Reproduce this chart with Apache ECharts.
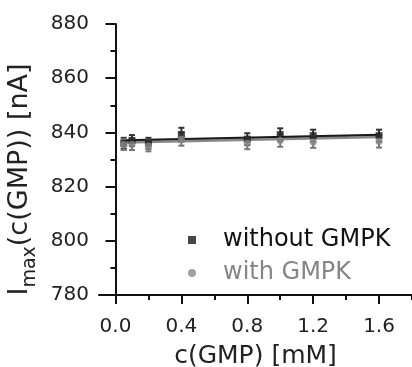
<!DOCTYPE html>
<html>
<head>
<meta charset="utf-8">
<script src="https://cdn.jsdelivr.net/npm/echarts@6/dist/echarts.min.js"></script>
<style>html,body{margin:0;padding:0;background:#fff}#c{width:412px;height:367px}</style>
</head>
<body>
<div id="c"></div>
<script>
// concentrations c(GMP) [mM]
var conc = [0.05, 0.1, 0.2, 0.4, 0.8, 1.0, 1.2, 1.6];
// without GMPK
var withoutVals = [836.0, 837.0, 836.0, 839.2, 837.5, 839.2, 838.8, 838.8];
var withoutErr  = [2.0, 2.0, 2.0, 2.5, 2.2, 2.3, 2.2, 2.2];
// with GMPK
var withVals = [835.5, 835.5, 835.0, 837.5, 836.0, 837.0, 836.5, 836.6];
var withErr  = [2.0, 2.0, 2.0, 2.4, 2.2, 2.3, 2.2, 2.2];
// linear fits (end points)
var fitWithout = [[0.05, 837.0], [1.6, 839.0]];
var fitWith = [[0.05, 836.3], [1.6, 838.3]];
// tick labels
var xTicks = [0.0, 0.4, 0.8, 1.2, 1.6];
var xMinorTicks = [0.2, 0.6, 1.0, 1.4, 1.8];

var BLACK = '#1a1a1a', GRAY = '#888888';
var FONT = 'DejaVu Sans';

function pts(xs, ys, es) {
  return xs.map(function (x, i) { return es ? [x, ys[i], es[i]] : [x, ys[i]]; });
}
function errRender(color) {
  return function (params, api) {
    var x = api.value(0), y = api.value(1), e = api.value(2);
    var top = api.coord([x, y + e]), bot = api.coord([x, y - e]);
    var w = 3;
    var st = { stroke: color, lineWidth: 2 };
    return { type: 'group', children: [
      { type: 'line', shape: { x1: top[0], y1: top[1], x2: bot[0], y2: bot[1] }, style: st },
      { type: 'line', shape: { x1: top[0] - w, y1: top[1], x2: top[0] + w, y2: top[1] }, style: st },
      { type: 'line', shape: { x1: bot[0] - w, y1: bot[1], x2: bot[0] + w, y2: bot[1] }, style: st }
    ]};
  };
}

var chart = echarts.init(document.getElementById('c'));
chart.setOption({
  animation: false,
  backgroundColor: '#fff',
  grid: { left: 99, right: 0, top: 24, bottom: 72, containLabel: false, outerBoundsMode: 'none' },
  legend: {
    orient: 'vertical', left: 183, top: 223,
    itemWidth: 8, itemHeight: 8, itemGap: 9,
    selectedMode: false,
    textStyle: { fontFamily: FONT, fontSize: 24, lineHeight: 24, padding: [0, 0, 0, 22] },
    data: [
      { name: 'without GMPK', icon: 'rect', textStyle: { color: '#111' } },
      { name: 'with GMPK', icon: 'circle', textStyle: { color: '#858585' } }
    ]
  },
  xAxis: [{
    type: 'value', min: -0.1, max: 1.8,
    name: 'c(GMP) [mM]', nameLocation: 'middle', nameGap: 49,
    nameTextStyle: { fontFamily: FONT, fontSize: 25, color: '#222' },
    axisLine: { show: true, onZero: false, lineStyle: { color: '#111', width: 2 } },
    axisTick: { show: true, length: 9, customValues: xTicks, lineStyle: { color: '#111', width: 2 } },
    axisLabel: { customValues: xTicks, margin: 22, fontFamily: FONT, fontSize: 20, color: '#222',
      formatter: function (v) { return v.toFixed(1); } },
    splitLine: { show: false }
  }, {
    type: 'value', min: -0.1, max: 1.8, position: 'bottom',
    axisLine: { show: false },
    axisTick: { show: true, length: 5, customValues: xMinorTicks, lineStyle: { color: '#111', width: 2 } },
    axisLabel: { show: false },
    splitLine: { show: false }
  }],
  yAxis: {
    type: 'value', min: 780, max: 880, interval: 20,
    name: '{a|I}{b|max}{a|(c(GMP)) [nA]}', nameLocation: 'middle', nameGap: 58,
    nameTextStyle: {
      padding: [0, 40, 0, 0],
      rich: {
        a: { fontFamily: FONT, fontSize: 27, color: '#222' },
        b: { fontFamily: FONT, fontSize: 19, color: '#222', verticalAlign: 'bottom', padding: [0, 0, -6, 0] }
      }
    },
    axisLine: { show: true, lineStyle: { color: '#111', width: 2 } },
    axisTick: { show: true, length: 10, lineStyle: { color: '#111', width: 2 } },
    minorTick: { show: true, splitNumber: 2, length: 5, lineStyle: { color: '#111', width: 2 } },
    axisLabel: { margin: 10, fontFamily: FONT, fontSize: 20, color: '#222' },
    splitLine: { show: false }
  },
  series: [
    { name: 'fit without', type: 'line', data: fitWithout, symbol: 'none', lineStyle: { color: BLACK, width: 2.5 }, z: 3 },
    { name: 'fit with', type: 'line', data: fitWith, symbol: 'none', lineStyle: { color: GRAY, width: 2.5 }, z: 4 },
    { name: 'err without', type: 'custom', data: pts(conc, withoutVals, withoutErr), renderItem: errRender('#333'), z: 5 },
    { name: 'err with', type: 'custom', data: pts(conc, withVals, withErr), renderItem: errRender('#777'), z: 5 },
    { name: 'without GMPK', type: 'scatter', data: pts(conc, withoutVals), symbol: 'rect', symbolSize: 7, itemStyle: { color: BLACK }, z: 6 },
    { name: 'with GMPK', type: 'scatter', data: pts(conc, withVals), symbol: 'circle', symbolSize: 7, itemStyle: { color: GRAY }, z: 6 }
  ]
});
</script>
</body>
</html>
